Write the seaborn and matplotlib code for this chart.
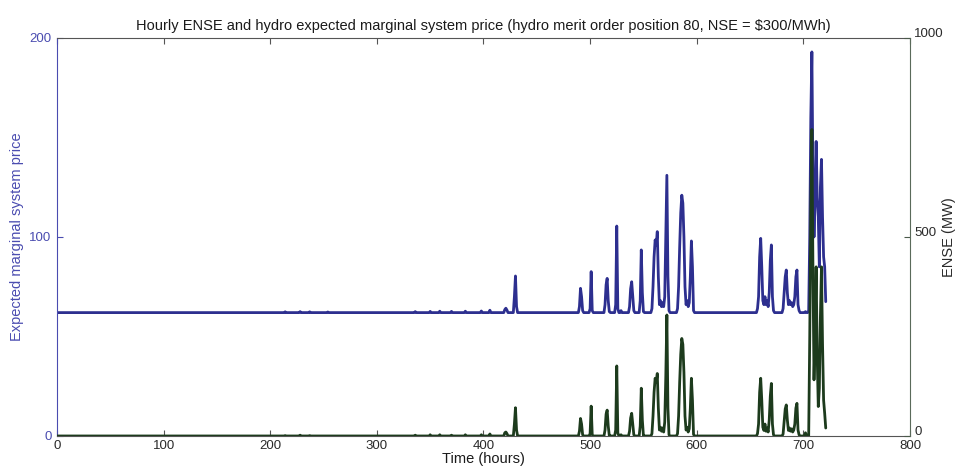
import numpy as np
import pandas as pd
import matplotlib
matplotlib.use("Agg")
import matplotlib.pyplot as plt
import matplotlib.transforms as mtransforms
import seaborn as sns

# Flat operating level of the two hourly series
price_base = 62.0      # $/MWh
ense_base = 0.0        # MW
last_hour = 721

# Hours where the series leave the flat level
event_hours = [
    214, 228, 237, 254, 336, 350, 359, 370, 383, 398, 406,
    420, 421, 422, 429, 430, 431,
    490, 491, 492, 493,
    500, 501, 502,
    514, 515, 516, 517, 518,
    524, 525, 526, 529,
    537, 538, 539, 540, 541,
    547, 548, 549, 550,
    558, 559, 560, 561, 562, 563, 564, 565, 566, 567, 568, 569,
    570, 571, 572, 573, 574,
    582, 583, 584, 585, 586, 587, 588, 589, 590, 591, 592, 593, 594, 595, 596, 597,
    657, 658, 659, 660, 661, 662, 663, 664, 665, 666, 667, 668, 669, 670, 671, 672,
    681, 682, 683, 684, 685, 686, 687, 688, 689, 690, 691, 692, 693, 694, 695, 696,
    702,
    705, 706, 707, 708, 709, 710, 711, 712, 713, 714, 715, 716, 717, 718, 719, 720, 721,
]

# Expected marginal system price at those hours ($/MWh)
event_price = [
    62.4, 62.5, 62.4, 62.3, 62.5, 62.6, 62.7, 62.6, 62.7, 62.8, 63.2,
    63.5, 64.2, 63.3, 70.0, 80.4, 65.0,
    65.0, 74.2, 70.0, 63.0,
    64.0, 82.6, 63.0,
    66.0, 76.0, 79.2, 68.0, 62.5,
    66.0, 105.5, 64.0, 63.0,
    65.0, 74.0, 77.5, 70.0, 63.0,
    68.0, 93.5, 72.0, 62.5,
    64.0, 75.0, 90.0, 98.5, 96.0, 102.7, 80.0, 66.0, 68.0, 65.0, 67.0, 65.0,
    70.0, 100.0, 131.0, 80.0, 63.0,
    64.0, 75.0, 95.0, 112.0, 121.0, 117.0, 100.0, 75.0, 66.0, 68.0, 65.0, 67.0, 80.0, 98.0, 85.0, 63.0,
    64.0, 70.0, 90.0, 99.3, 85.0, 68.0, 66.0, 70.0, 66.0, 68.0, 65.0, 72.0, 88.0, 96.0, 70.0, 63.0,
    64.0, 72.0, 80.0, 83.4, 72.0, 66.0, 68.0, 66.0, 67.0, 65.0, 66.0, 70.0, 80.0, 83.4, 66.0, 63.0,
    62.5,
    63.0, 100.0, 160.0, 193.0, 130.0, 100.0, 118.0, 148.0, 120.0, 110.0, 85.0, 125.0, 139.0, 110.0, 90.0, 85.0, 67.5,
]

# Expected energy not served at those hours (MW)
event_ense = [
    1, 2, 1, 0, 2, 3, 3, 2, 3, 3, 5,
    8, 10, 6, 30, 71, 15,
    12, 44, 30, 3,
    6, 75, 3,
    15, 55, 65, 25, 1,
    15, 176, 8, 3,
    12, 45, 57, 30, 3,
    25, 120, 40, 1,
    6, 50, 110, 145, 135, 157, 70, 15, 22, 12, 20, 10,
    35, 150, 304, 70, 3,
    6, 50, 135, 205, 245, 230, 160, 50, 15, 22, 10, 18, 70, 145, 90, 4,
    6, 30, 110, 145, 90, 22, 14, 30, 12, 20, 10, 40, 100, 132, 30, 3,
    5, 35, 68, 78, 40, 14, 20, 12, 18, 10, 15, 30, 70, 82, 15, 3,
    8,
    0, 250, 560, 770, 420, 141, 260, 425, 200, 74, 120, 300, 425, 230, 90, 57, 20,
]

hours = np.arange(0, last_hour + 1)
price = np.full(hours.size, price_base)
ense = np.full(hours.size, ense_base)
price[event_hours] = event_price
ense[event_hours] = event_ense
df = pd.DataFrame({"hour": hours, "price": price, "ense": ense})

sns.set_theme(style="white")
plt.rcParams["font.family"] = ["Liberation Sans", "DejaVu Sans"]

blue_line = "#2d2f8f"
green_line = "#1d3b1d"
blue_text = "#4a4cb0"
dark_text = "#2a2a2a"

fig = plt.figure(figsize=(9.61, 4.69), dpi=100)
ax = fig.add_axes([0.0593, 0.0704, 0.8876, 0.8486])
ax2 = ax.twinx()

sns.lineplot(data=df, x="hour", y="price", ax=ax, color=blue_line,
             linewidth=2.0, estimator=None)
sns.lineplot(data=df, x="hour", y="ense", ax=ax2, color=green_line,
             linewidth=2.0, estimator=None)

ax.set_xlim(0, 800)
ax.set_ylim(0, 200)
ax2.set_ylim(0, 1000)
ax.set_xticks(range(0, 801, 100))
ax.set_yticks([0, 100, 200])
ax2.set_yticks([0, 500, 1000])

ax.set_title("Hourly ENSE and hydro expected marginal system price "
             r"(hydro merit order position 80, NSE = \$300/MWh)",
             fontsize=10.5, color="#1a1a1a", pad=6)
ax.set_xlabel("Time (hours)", fontsize=10.5, color="#1a1a1a", labelpad=0)
ax.set_ylabel("Expected marginal system price", fontsize=10.5,
              color=blue_text)
ax2.set_ylabel("ENSE (MW)", fontsize=10.5, color=dark_text, rotation=90)
ax.yaxis.set_label_coords(-0.039, 0.5)
ax2.yaxis.set_label_coords(1.037, 0.5)

ax.tick_params(axis="x", direction="in", top=True, bottom=True, length=4,
               width=0.8, colors="#555555", labelcolor=dark_text,
               labelsize=9.5, pad=3)
ax.tick_params(axis="y", direction="in", left=True, length=4, width=0.8,
               colors=blue_text, labelcolor=blue_text, labelsize=9.5, pad=4)
ax2.tick_params(axis="y", direction="in", right=True, length=4, width=0.8,
                colors="#4a5a4a", labelcolor=dark_text, labelsize=9.5, pad=3)

# Lift the right-hand tick labels slightly so "0" clears the x labels
lift = mtransforms.ScaledTranslation(0, 4 / 72, fig.dpi_scale_trans)
for lbl in ax2.get_yticklabels():
    lbl.set_transform(lbl.get_transform() + lift)

for side in ("top", "bottom"):
    ax.spines[side].set_color("#555555")
    ax.spines[side].set_linewidth(0.8)
ax.spines["left"].set_color(blue_text)
ax.spines["left"].set_linewidth(0.8)
ax.spines["right"].set_visible(False)
for side in ("left", "top", "bottom"):
    ax2.spines[side].set_visible(False)
ax2.spines["right"].set_color("#5a6a5a")
ax2.spines["right"].set_linewidth(0.8)
ax.grid(False)
ax2.grid(False)

fig.savefig("out.png", dpi=100)
